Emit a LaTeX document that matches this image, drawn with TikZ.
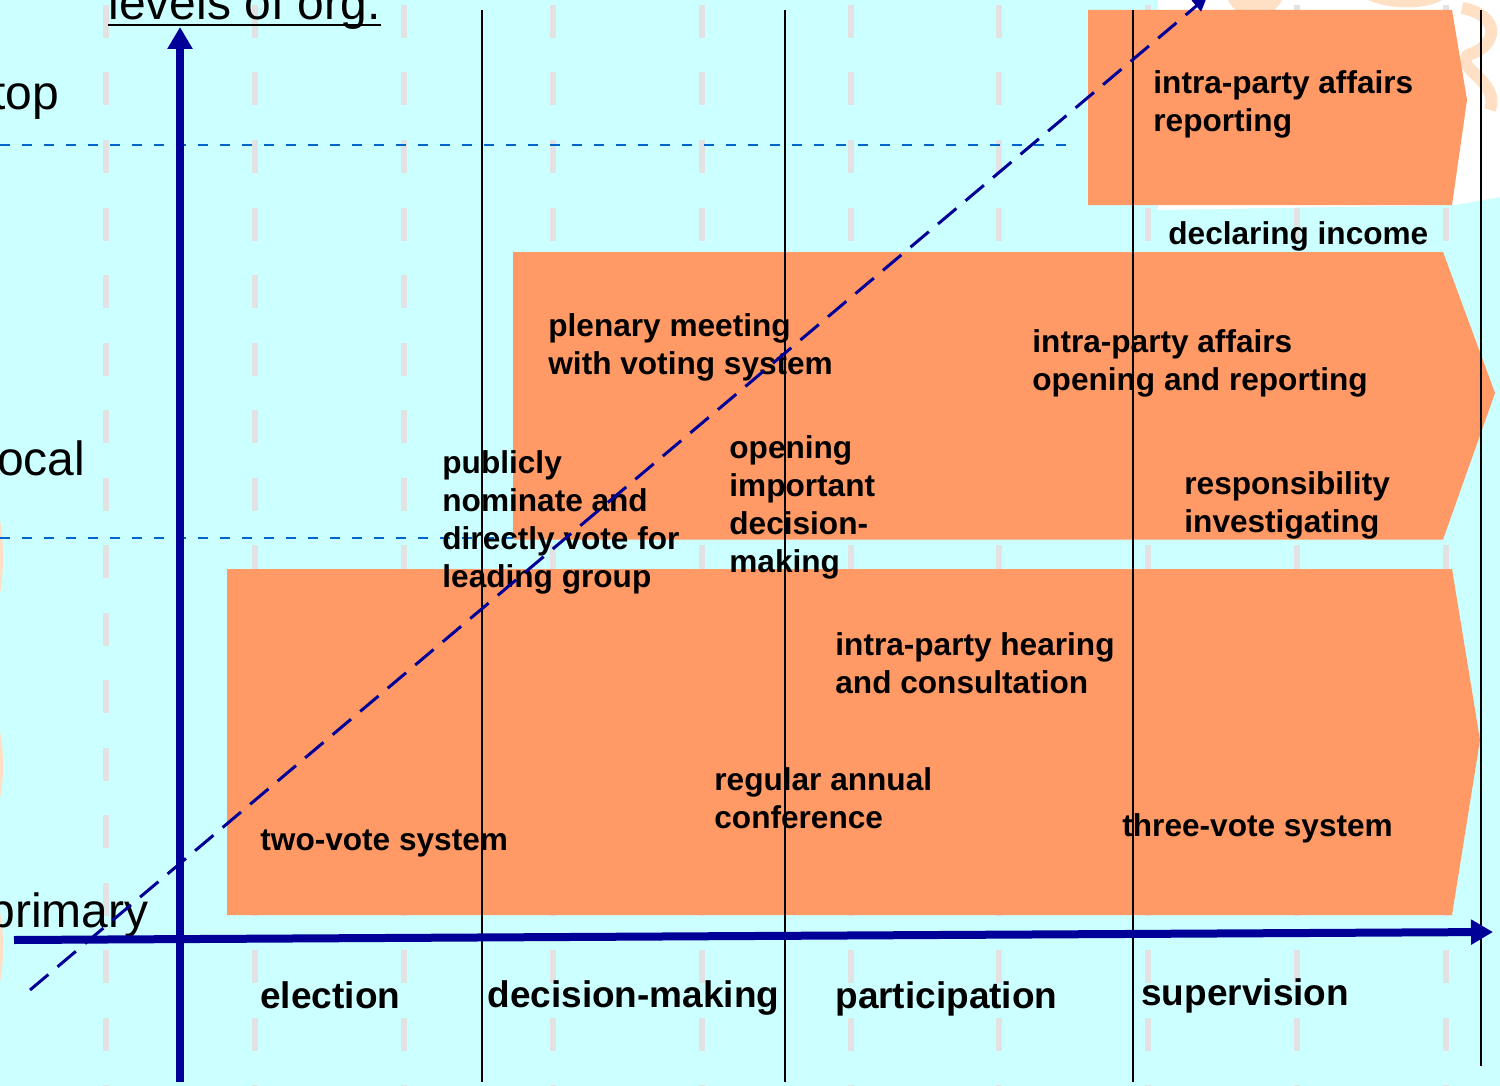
\documentclass[tikz,border=0pt]{standalone}
\usepackage{fontspec}
\setmainfont{Liberation Sans}
\usetikzlibrary{arrows.meta, positioning, calc}

\definecolor{bgcyan}{HTML}{CCFFFF}
\definecolor{bandorange}{HTML}{FF9966}
\definecolor{axisblue}{HTML}{000099}
\definecolor{levelblue}{HTML}{0066CC}
\definecolor{stripegray}{HTML}{E2E2E2}
\definecolor{peach}{HTML}{FFE0C4}

\tikzset{
  item/.style={font=\bfseries\fontsize{15.8}{19}\selectfont, align=left, anchor=base west, inner sep=0pt},
  dimlabel/.style={font=\bfseries\fontsize{18.5}{22}\selectfont, anchor=base west, inner sep=0pt},
  levellabel/.style={font=\fontsize{24}{28}\selectfont, anchor=base west, inner sep=0pt},
  axis/.style={axisblue, line width=4pt, -{Triangle[length=11pt, width=12pt]}},
  trend/.style={axisblue, line width=1.5pt, dash pattern=on 12pt off 6pt, -{Triangle[length=7pt, width=7pt]}},
  levelline/.style={levelblue, line width=1pt, dash pattern=on 5pt off 6pt},
  stripeline/.style={stripegray, line width=3pt, dash pattern=on 16.5pt off 17.25pt},
  divider/.style={black, line width=1.2pt},
  band/.style={fill=bandorange, draw=none}
}

\begin{document}
\begin{tikzpicture}[x=0.5pt, y=-0.5pt]
    \useasboundingbox (0,0) rectangle (1500,1086);
    \clip (0,0) rectangle (1500,1086);
    \fill[bgcyan] (0,0) rectangle (1500,1086);

    % backdrop
    \fill[white] (1158,0) -- (1500,0) -- (1500,197) -- (1455,205) -- (1158,210) -- cycle;
    \fill[peach] (1228,0) .. controls (1238,22) and (1272,22) .. (1282,0) -- cycle;
    \fill[peach] (1368,0) .. controls (1390,10) and (1425,10) .. (1442,0) -- cycle;
    \draw[peach, line width=6pt] (1462,8) .. controls (1500,15) and (1500,45) .. (1468,55)
        .. controls (1455,70) and (1500,80) .. (1490,110);
    \fill[peach] (-3,557) ellipse [x radius=3pt, y radius=21pt];
    \fill[peach] (-3,765) ellipse [x radius=3pt, y radius=19pt];
    \fill[peach] (-3,947) ellipse [x radius=3pt, y radius=20pt];
    \foreach \i in {0,...,9}
        \draw[stripeline] ({106+148.9*\i},5) -- ({106+148.9*\i},1090);

    \draw[levelline] (0,145) -- (1075,145);
    \draw[levelline] (0,538) -- (1075,538);

    \fill[band] (1088,10) -- (1452,10) -- (1467,100) -- (1452,205) -- (1088,205) -- cycle;
    \fill[band] (513,252) -- (1443,252) -- (1495,393) -- (1443,539.5) -- (513,539.5) -- cycle;
    \fill[band] (227,569) -- (1452,569) -- (1480,740) -- (1452,915) -- (227,915) -- cycle;

    \node[levellabel] (title) at (108,20) {levels of org.};
    \draw[line width=1pt] ([yshift=-2.5pt]title.base west) -- ([yshift=-2.5pt]title.base east);
    \node[levellabel] (top) at (-8,110) {top};
    \node[levellabel] (local) at (-14,475) {local};
    \node[levellabel] (primary) at (-12,927) {primary};

    \node[item] (toprep) at (1153,132) {intra-party affairs\\reporting};
    \node[item] (income) at (1168,244) {declaring income};
    \node[item] (plenary) at (548,374) {plenary meeting\\with voting system};
    \node[item] (openrep) at (1032,390) {intra-party affairs\\opening and reporting};
    \node[item] (nominate) at (442,587) {publicly\\nominate and\\directly vote for\\leading group};
    \node[item] (opening) at (729,572) {opening\\important\\decision-\\making};
    \node[item] (respons) at (1184,532) {responsibility\\investigating};
    \node[item] (hearing) at (835,693) {intra-party hearing\\and consultation};
    \node[item] (annual) at (714,828) {regular annual\\conference};
    \node[item] (twovote) at (260,850) {two-vote system};
    \node[item] (threevote) at (1122,836) {three-vote system};

    \node[dimlabel] (election) at (260,1008) {election};
    \node[dimlabel] (decision) at (487,1007) {decision-making};
    \node[dimlabel] (particip) at (835,1008) {participation};
    \node[dimlabel] (superv) at (1141,1005) {supervision};

    \foreach \x/\yb in {482/1082, 785/1082, 1133/1082, 1481/1066}
        \draw[divider] (\x,10) -- (\x,\yb);

    \coordinate (ybot) at (180,1082);
    \coordinate (ytop) at (180,27);
    \coordinate (xleft) at (14,940);
    \coordinate (xright) at (1493,932);
    \coordinate (tstart) at (30,990);
    \coordinate (tend) at (1207,-3);
    \draw[axis] (ybot) -- (ytop);
    \draw[axis] (xleft) -- (xright);
    \draw[trend] (tstart) -- (tend);
\end{tikzpicture}
\end{document}
